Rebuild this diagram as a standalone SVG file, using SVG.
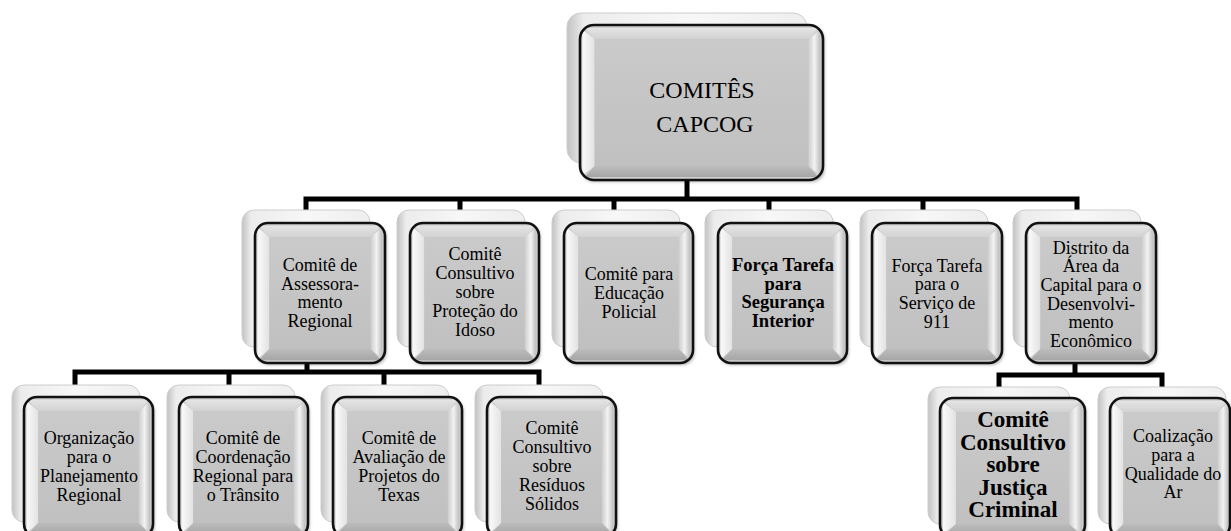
<svg xmlns="http://www.w3.org/2000/svg" xmlns:xlink="http://www.w3.org/1999/xlink" width="1231" height="531" viewBox="0 0 1231 531">
<style>
.back{fill:url(#gBack);stroke:#cdcdcd;stroke-width:1}
.border{fill:none;stroke:#111;stroke-width:2.6}
.conn{fill:none;stroke:#000;stroke-width:5;stroke-linejoin:miter}
text{font-family:"Liberation Serif","Times New Roman",serif;fill:#000;text-anchor:middle}
.t{font-size:18px}
.b{font-size:18.5px;font-weight:bold}
.bb{font-size:23px;font-weight:bold}
.top{font-size:24px}
</style>
<defs>
<linearGradient id="gBack" x1="0" y1="0" x2="1" y2="0">
<stop offset="0" stop-color="#c2c2c2"/><stop offset="0.07" stop-color="#ececec"/><stop offset="0.5" stop-color="#f7f7f7"/><stop offset="1" stop-color="#eeeeee"/>
</linearGradient>
<linearGradient id="gLeft" x1="0" y1="0" x2="1" y2="0">
<stop offset="0" stop-color="#fafafa"/><stop offset="1" stop-color="#e2e2e2"/>
</linearGradient>
<linearGradient id="gRight" x1="0" y1="0" x2="1" y2="0">
<stop offset="0" stop-color="#cdcdcd"/><stop offset="0.5" stop-color="#f2f2f2"/><stop offset="1" stop-color="#bdbdbd"/>
</linearGradient>
<linearGradient id="gTop" x1="0" y1="0" x2="0" y2="1">
<stop offset="0" stop-color="#e4e4e4"/><stop offset="1" stop-color="#d2d2d2"/>
</linearGradient>
<linearGradient id="gBot" x1="0" y1="0" x2="0" y2="1">
<stop offset="0" stop-color="#bcbcbc"/><stop offset="1" stop-color="#a6a6a6"/>
</linearGradient>
<linearGradient id="gFace" x1="0" y1="0" x2="0" y2="1">
<stop offset="0" stop-color="#cacaca"/><stop offset="1" stop-color="#c0c0c0"/>
</linearGradient>
<filter id="sh" x="-10%" y="-10%" width="125%" height="125%">
<feDropShadow dx="1.5" dy="2" stdDeviation="1.8" flood-color="#000" flood-opacity="0.3"/>
</filter>
<symbol id="bevel" viewBox="0 0 100 100" preserveAspectRatio="none">
<rect width="100" height="100" rx="9" ry="9" fill="#d0d0d0"/>
<polygon points="2,3 11,10 11,90 2,97" fill="url(#gLeft)"/>
<polygon points="3,2 97,2 89,10 11,10" fill="url(#gTop)"/>
<polygon points="98,3 98,97 89,90 89,10" fill="url(#gRight)"/>
<polygon points="3,98 11,90 89,90 97,98" fill="url(#gBot)"/>
<rect x="11" y="10" width="78" height="80" fill="url(#gFace)"/>
</symbol>
<symbol id="bevelW" viewBox="0 0 100 100" preserveAspectRatio="none">
<rect width="100" height="100" rx="5" ry="8" fill="#d0d0d0"/>
<polygon points="1,3 6,9 6,91 1,97" fill="url(#gLeft)"/>
<polygon points="2,2 98,2 94,9 6,9" fill="url(#gTop)"/>
<polygon points="99,3 99,97 94,91 94,9" fill="url(#gRight)"/>
<polygon points="2,98 6,91 94,91 98,98" fill="url(#gBot)"/>
<rect x="6" y="9" width="88" height="82" fill="url(#gFace)"/>
</symbol>
</defs>
<rect width="1231" height="531" fill="#fff"/>

<g id="connectors">
<path class="conn" d="M687,178 V199"/>
<path class="conn" d="M306,212 V199 H1077 V212"/>
<path class="conn" d="M460,199 V212 M614,199 V212 M769,199 V212 M923,199 V212"/>
<path class="conn" d="M307,360 V372"/>
<path class="conn" d="M75,386 V372 H539 V386"/>
<path class="conn" d="M229,372 V386 M384,372 V386"/>
<path class="conn" d="M1075,360 V375"/>
<path class="conn" d="M999,389 V375 H1162 V389"/>
</g>

<g id="n0">
<rect class="back" x="567" y="13" width="240" height="150" rx="14"/>
<use xlink:href="#bevelW" href="#bevelW" x="580" y="25" width="243" height="155" filter="url(#sh)"/>
<rect class="border" x="580" y="25" width="243" height="155" rx="14"/>
<text class="top" x="702" y="98">COMITÊS</text>
<text class="top" x="705" y="132">CAPCOG</text>
</g>

<g id="n1">
<rect class="back" x="242" y="210" width="128" height="137" rx="12"/>
<use href="#bevel" x="255" y="223" width="130" height="140" filter="url(#sh)"/>
<rect class="border" x="255" y="223" width="130" height="140" rx="13"/>
<text class="t" x="320"><tspan x="320" y="271">Comitê de</tspan><tspan x="320" y="290">Assessora-</tspan><tspan x="320" y="308">mento</tspan><tspan x="320" y="327">Regional</tspan></text>
</g>

<g id="n2">
<rect class="back" x="397" y="210" width="128" height="137" rx="12"/>
<use href="#bevel" x="410" y="223" width="129" height="140" filter="url(#sh)"/>
<rect class="border" x="410" y="223" width="129" height="140" rx="13"/>
<text class="t"><tspan x="475" y="260">Comitê</tspan><tspan x="475" y="279">Consultivo</tspan><tspan x="475" y="298">sobre</tspan><tspan x="475" y="317">Proteção do</tspan><tspan x="475" y="336">Idoso</tspan></text>
</g>

<g id="n3">
<rect class="back" x="552" y="210" width="128" height="137" rx="12"/>
<use href="#bevel" x="564" y="223" width="129" height="140" filter="url(#sh)"/>
<rect class="border" x="564" y="223" width="129" height="140" rx="13"/>
<text class="t"><tspan x="629" y="280">Comitê para</tspan><tspan x="629" y="299">Educação</tspan><tspan x="629" y="318">Policial</tspan></text>
</g>

<g id="n4">
<rect class="back" x="705" y="210" width="128" height="137" rx="12"/>
<use href="#bevel" x="718" y="223" width="129" height="140" filter="url(#sh)"/>
<rect class="border" x="718" y="223" width="129" height="140" rx="13"/>
<text class="b"><tspan x="783" y="271">Força Tarefa</tspan><tspan x="783" y="290">para</tspan><tspan x="783" y="308">Segurança</tspan><tspan x="783" y="327">Interior</tspan></text>
</g>

<g id="n5">
<rect class="back" x="860" y="210" width="128" height="137" rx="12"/>
<use href="#bevel" x="872" y="223" width="130" height="140" filter="url(#sh)"/>
<rect class="border" x="872" y="223" width="130" height="140" rx="13"/>
<text class="t"><tspan x="937" y="272">Força Tarefa</tspan><tspan x="937" y="290">para o</tspan><tspan x="937" y="309">Serviço de</tspan><tspan x="937" y="328">911</tspan></text>
</g>

<g id="n6">
<rect class="back" x="1013" y="210" width="128" height="137" rx="12"/>
<use href="#bevel" x="1026" y="223" width="130" height="140" filter="url(#sh)"/>
<rect class="border" x="1026" y="223" width="130" height="140" rx="13"/>
<text class="t"><tspan x="1091" y="254">Distrito da</tspan><tspan x="1091" y="272">Área da</tspan><tspan x="1091" y="291">Capital para o</tspan><tspan x="1091" y="310">Desenvolvi-</tspan><tspan x="1091" y="328">mento</tspan><tspan x="1091" y="347">Econômico</tspan></text>
</g>

<g id="n7">
<rect class="back" x="12" y="385" width="128" height="137" rx="12"/>
<use href="#bevel" x="24" y="397" width="129" height="140" filter="url(#sh)"/>
<rect class="border" x="24" y="397" width="129" height="140" rx="13"/>
<text class="t"><tspan x="89" y="444">Organização</tspan><tspan x="89" y="463">para o</tspan><tspan x="89" y="482">Planejamento</tspan><tspan x="89" y="501">Regional</tspan></text>
</g>

<g id="n8">
<rect class="back" x="167" y="385" width="128" height="137" rx="12"/>
<use href="#bevel" x="179" y="397" width="129" height="140" filter="url(#sh)"/>
<rect class="border" x="179" y="397" width="129" height="140" rx="13"/>
<text class="t"><tspan x="243" y="444">Comitê de</tspan><tspan x="243" y="463">Coordenação</tspan><tspan x="243" y="482">Regional para</tspan><tspan x="243" y="501">o Trânsito</tspan></text>
</g>

<g id="n9">
<rect class="back" x="321" y="385" width="128" height="137" rx="12"/>
<use href="#bevel" x="333" y="397" width="129" height="140" filter="url(#sh)"/>
<rect class="border" x="333" y="397" width="129" height="140" rx="13"/>
<text class="t"><tspan x="399" y="444">Comitê de</tspan><tspan x="399" y="463">Avaliação de</tspan><tspan x="399" y="482">Projetos do</tspan><tspan x="399" y="501">Texas</tspan></text>
</g>

<g id="n10">
<rect class="back" x="475" y="385" width="128" height="137" rx="12"/>
<use href="#bevel" x="487" y="397" width="129" height="140" filter="url(#sh)"/>
<rect class="border" x="487" y="397" width="129" height="140" rx="13"/>
<text class="t"><tspan x="552" y="434">Comitê</tspan><tspan x="552" y="453">Consultivo</tspan><tspan x="552" y="472">sobre</tspan><tspan x="552" y="491">Resíduos</tspan><tspan x="552" y="510">Sólidos</tspan></text>
</g>

<g id="n11">
<rect class="back" x="928" y="387" width="142" height="137" rx="12"/>
<use href="#bevel" x="940" y="398" width="145" height="140" filter="url(#sh)"/>
<rect class="border" x="940" y="398" width="145" height="140" rx="13"/>
<text class="bb"><tspan x="1013" y="427">Comitê</tspan><tspan x="1013" y="449.5">Consultivo</tspan><tspan x="1013" y="472">sobre</tspan><tspan x="1013" y="494.5">Justiça</tspan><tspan x="1013" y="517">Criminal</tspan></text>
</g>

<g id="n12">
<rect class="back" x="1098" y="387" width="128" height="137" rx="12"/>
<use href="#bevel" x="1110" y="398" width="121" height="140" filter="url(#sh)"/>
<rect class="border" x="1110" y="398" width="120" height="140" rx="13"/>
<text class="t"><tspan x="1173" y="442">Coalização</tspan><tspan x="1173" y="461">para a</tspan><tspan x="1173" y="480">Qualidade do</tspan><tspan x="1173" y="498">Ar</tspan></text>
</g>
</svg>
